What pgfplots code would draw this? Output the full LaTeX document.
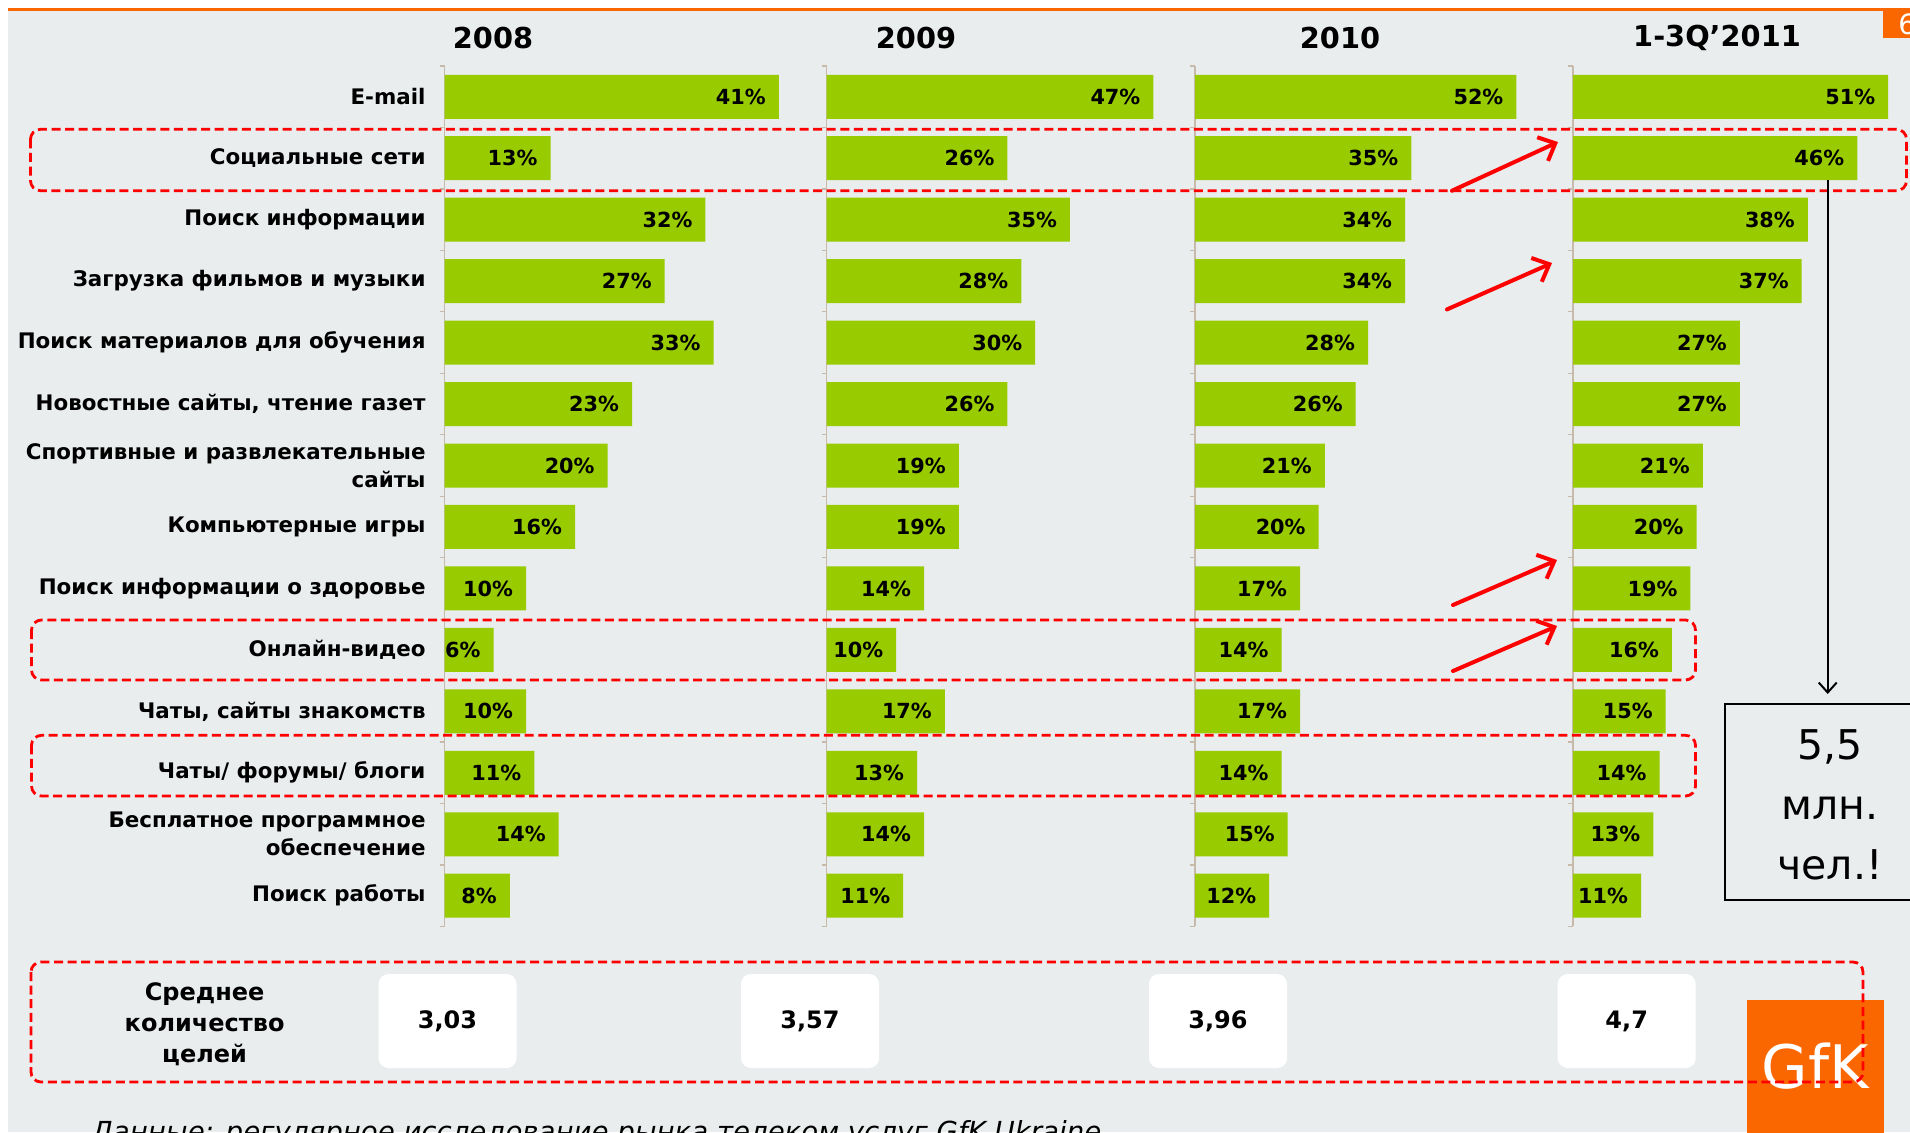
\documentclass[border=0pt]{standalone}
\usepackage{fontspec}
\setmainfont{DejaVu Sans}[ItalicFont={DejaVu Sans Oblique},BoldItalicFont={DejaVu Sans Bold Oblique}]
\usepackage{pgfplots}
\usepackage{pgfplotstable}
\pgfplotsset{compat=1.18}
\usetikzlibrary{arrows.meta}

\definecolor{bg}{RGB}{233,237,238}
\definecolor{barg}{RGB}{153,204,0}
\definecolor{gfk}{RGB}{250,102,0}
\definecolor{axtan}{RGB}{200,186,170}
\definecolor{dred}{RGB}{255,0,0}

% share of internet users, %, by purpose
\pgfplotstableread{
idx y2008 y2009 y2010 y2011
0  41 47 52 51
1  13 26 35 46
2  32 35 34 38
3  27 28 34 37
4  33 30 28 27
5  23 26 26 27
6  20 19 21 21
7  16 19 20 20
8  10 14 17 19
9  6  10 14 16
10 10 17 17 15
11 11 13 14 14
12 14 14 15 13
13 8  11 12 11
}\usage

\pgfplotsset{
  panel/.style={
    anchor=north west,
    y=30.73pt, y dir=reverse, ymin=-0.5, ymax=13.5,
    xmin=0, xmax=40,
    axis x line=none, axis y line*=left,
    y axis line style={draw=axtan, line width=0.75pt},
    ytick={0,...,13}, minor ytick={-0.5,0.5,...,13.5},
    major tick length=0pt, minor tick length=2.5pt, tick align=inside,
    minor tick style={draw=axtan, line width=0.6pt},
    yticklabels={},
    xbar, bar width=22pt, clip=false,
    point meta=x,
    /pgf/number format/assume math mode=true,
    nodes near coords={\pgfmathprintnumber{\pgfplotspointmeta}\%},
    every node near coord/.append style={anchor=east, xshift=-3pt,
      font=\bfseries\fontsize{10.4}{12}\selectfont, text=black},
  },
  greenbar/.style={fill=barg, draw=none},
}

\begin{document}
\begin{tikzpicture}
\useasboundingbox (0,0) rectangle (955pt,-566pt);
\clip (0,0) rectangle (955pt,-566pt);

\begin{scope}[x=0.5pt,y=-0.5pt]
  \fill[white] (0,0) rectangle (1910,1132);
  \fill[bg] (8,10) rectangle (1910,1132);
  \fill[gfk] (8,8) rectangle (1910,10.5);
  \fill[gfk] (1883,10) rectangle (1910,38);
  \node[text=white, anchor=west, inner sep=0pt, font=\fontsize{14}{14}\selectfont] at (1898,24) {6};
  % year headers
  \foreach \xx/\tt in {493/2008, 916/2009, 1340/2010, 1717/{1-3Q’2011}}
    \node[font=\bfseries\fontsize{14.4}{16}\selectfont] at (\xx,38) {\tt};
\end{scope}

\begin{axis}[panel, at={(222.3pt,-33pt)}, x=4.075pt,
  yticklabels={E-mail, Социальные сети, Поиск информации, Загрузка фильмов и музыки,
    Поиск материалов для обучения, {Новостные сайты, чтение газет},
    {Спортивные и развлекательные\\сайты}, Компьютерные игры,
    Поиск информации о здоровье, Онлайн-видео, {Чаты, сайты знакомств},
    Чаты/ форумы/ блоги, {Бесплатное программное\\обеспечение}, Поиск работы},
  yticklabel style={font=\bfseries\fontsize{10.7}{14}\selectfont, align=right, xshift=-6pt}]
  \addplot[greenbar] table[x=y2008, y=idx] {\usage};
\end{axis}
\begin{axis}[panel, at={(413.35pt,-33pt)}, x=3.475pt]
  \addplot[greenbar] table[x=y2009, y=idx] {\usage};
\end{axis}
\begin{axis}[panel, at={(597.5pt,-33pt)}, x=3.09pt]
  \addplot[greenbar] table[x=y2010, y=idx] {\usage};
\end{axis}
\begin{axis}[panel, at={(786.5pt,-33pt)}, x=3.09pt]
  \addplot[greenbar] table[x=y2011, y=idx] {\usage};
\end{axis}

\begin{scope}[x=0.5pt,y=-0.5pt]
  % highlight boxes
  \tikzset{hl/.style={dred, line width=1.4pt, dash pattern=on 4.5pt off 2.3pt, rounded corners=5pt}}
  \draw[hl] (30.5,129.3) rectangle (1906.5,190.7);
  \draw[hl] (31.5,620) rectangle (1695.5,680);
  \draw[hl] (31.5,735.3) rectangle (1695.5,796);
  % growth arrows
  \tikzset{ra/.style={dred, line width=2pt, line cap=round, -{Straight Barb[length=7pt,width=13pt,line width=2pt]}}}
  \draw[ra] (1452,190.7) -- (1558,142);
  \draw[ra] (1447,309.4) -- (1552,263);
  \draw[ra] (1453,605) -- (1557,560);
  \draw[ra] (1453,671) -- (1557,626);
  % callout
  \draw[line width=1pt, -{Straight Barb[length=5pt,width=9pt]}] (1827.7,180) -- (1827.7,694);
  \draw[line width=0.9pt] (1725,704) rectangle (1925,900);
  \node[align=center, font=\fontsize{20.5}{30}\selectfont] at (1830,805) {5,5\\млн.\\чел.!};
  % averages
  \node[align=center, font=\bfseries\fontsize{12}{15.5}\selectfont] at (204.6,1024) {Среднее\\количество\\целей};
  \foreach \xx/\vv in {447.5/{3,03}, 810/{3,57}, 1218/{3,96}, 1626.7/{4,7}}
    \node[fill=white, rounded corners=5pt, minimum width=69pt, minimum height=47pt,
          font=\bfseries\fontsize{12}{14}\selectfont] at (\xx,1021) {\vv};
  % logo
  \fill[gfk] (1746.7,1000) rectangle (1884,1140);
  \node[anchor=base, text=white, font=\fontsize{30}{30}\selectfont] at (1815,1088) {GfK};
  \draw[hl] (31,962) rectangle (1863,1082);
  % source
  \node[anchor=base west, inner sep=0pt, font=\itshape\fontsize{13.8}{14}\selectfont] at (91,1141)
    {Данные: регулярное исследование рынка телеком услуг GfK Ukraine};
\end{scope}
\end{tikzpicture}
\end{document}
